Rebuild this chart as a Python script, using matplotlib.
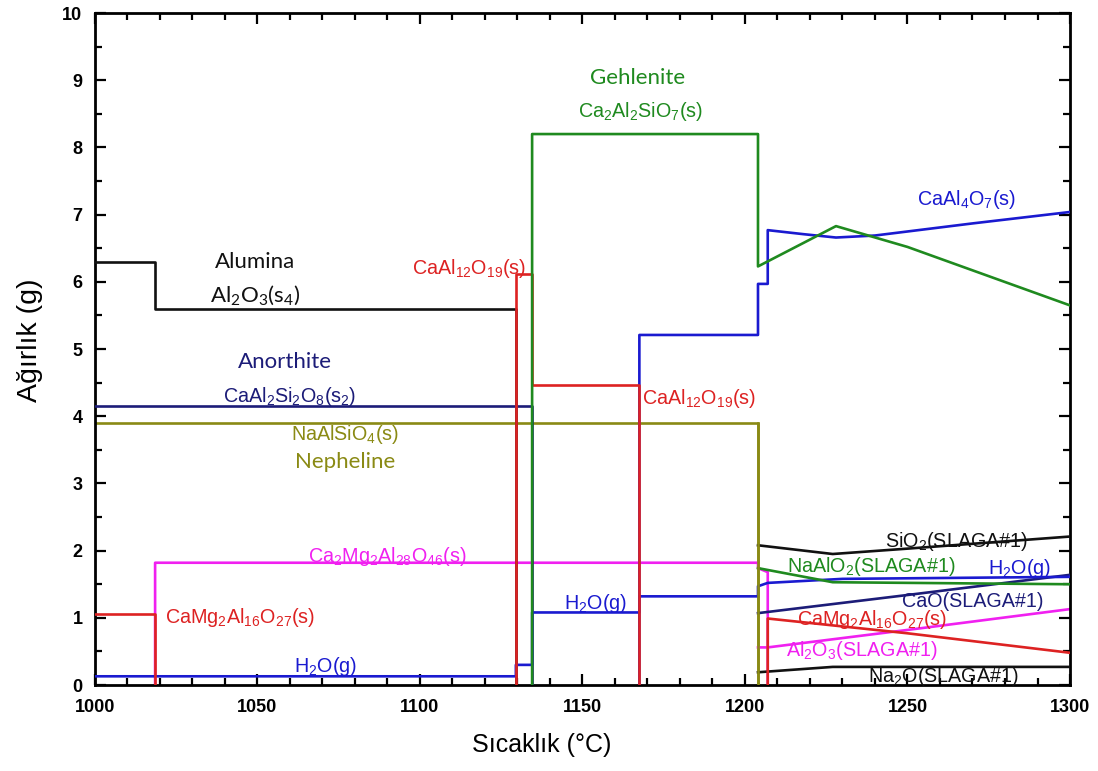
import matplotlib
matplotlib.use("Agg")
import matplotlib.pyplot as plt
from matplotlib.ticker import MultipleLocator

plt.rcParams['font.family'] = ['Liberation Sans', 'DejaVu Sans']
plt.rcParams['mathtext.default'] = 'regular'

# colours
BLACK = '#111111'
NAVY = '#1c1c78'
BLUE = '#1a1ad0'
RED = '#dd2222'
GREEN = '#1f8a1f'
OLIVE = '#8a8a14'
MAGENTA = '#f020f0'

# --- data (temperature in C, weight in g) ---
alumina_t = [1000, 1018.5, 1018.5, 1129.5, 1129.5]
alumina_w = [6.3, 6.3, 5.6, 5.6, 0]

anorthite_t = [1000, 1134.5, 1134.5]
anorthite_w = [4.16, 4.16, 0]

nepheline_t = [1000, 1204, 1204]
nepheline_w = [3.9, 3.9, 0]

spinel_t = [1000, 1018.5, 1018.5]
spinel_w = [1.05, 1.05, 0]

ca2mg2_t = [1018.5, 1018.5, 1204, 1204, 1207, 1207]
ca2mg2_w = [0, 1.82, 1.82, 1.74, 1.68, 0]

hibonite_t = [1129.5, 1129.5, 1134.5, 1134.5, 1167.5, 1167.5]
hibonite_w = [0, 6.12, 6.12, 4.47, 4.47, 0]

gehlenite_t = [1134.5, 1134.5, 1204, 1204, 1228, 1250, 1300]
gehlenite_w = [0, 8.2, 8.2, 6.23, 6.83, 6.52, 5.65]

caal4o7_t = [1167.5, 1167.5, 1204, 1204, 1207, 1207, 1218, 1228, 1240, 1250, 1270, 1300]
caal4o7_w = [0, 5.21, 5.21, 5.97, 5.97, 6.77, 6.71, 6.66, 6.69, 6.75, 6.87, 7.04]

h2o_t = [1000, 1129.5, 1129.5, 1134.5, 1134.5, 1167.5, 1167.5, 1204, 1204, 1207, 1230, 1300]
h2o_w = [0.13, 0.13, 0.3, 0.3, 1.08, 1.08, 1.32, 1.32, 1.47, 1.52, 1.58, 1.61]

sio2_t = [1204, 1227, 1250, 1300]
sio2_w = [2.08, 1.95, 2.03, 2.21]

naalo2_t = [1204, 1227, 1300]
naalo2_w = [1.74, 1.53, 1.50]

cao_t = [1204, 1250, 1300]
cao_w = [1.07, 1.34, 1.64]

spinel_slag_t = [1207, 1207, 1250, 1300]
spinel_slag_w = [0, 0.99, 0.77, 0.48]

al2o3_slag_t = [1204, 1207, 1250, 1300]
al2o3_slag_w = [0.56, 0.56, 0.82, 1.13]

na2o_t = [1204, 1227, 1300]
na2o_w = [0.19, 0.27, 0.27]

fig = plt.figure(figsize=(10.98, 7.71), dpi=100)
ax = fig.add_axes([0.0865, 0.1115, 0.888, 0.8715])

lw = 1.9
ax.plot(nepheline_t, nepheline_w, color=OLIVE, lw=lw, zorder=2)
ax.plot(ca2mg2_t, ca2mg2_w, color=MAGENTA, lw=lw, zorder=2)
ax.plot(al2o3_slag_t, al2o3_slag_w, color=MAGENTA, lw=lw, zorder=2)
ax.plot(alumina_t, alumina_w, color=BLACK, lw=lw, zorder=3)
ax.plot(sio2_t, sio2_w, color=BLACK, lw=lw, zorder=3)
ax.plot(na2o_t, na2o_w, color=BLACK, lw=lw, zorder=3)
ax.plot(anorthite_t, anorthite_w, color=NAVY, lw=lw, zorder=3)
ax.plot(cao_t, cao_w, color=NAVY, lw=lw, zorder=3)
ax.plot(h2o_t, h2o_w, color=BLUE, lw=lw, zorder=3)
ax.plot(caal4o7_t, caal4o7_w, color=BLUE, lw=lw, zorder=3)
ax.plot(naalo2_t, naalo2_w, color=GREEN, lw=lw, zorder=3)
ax.plot(spinel_t, spinel_w, color=RED, lw=lw, zorder=4)
ax.plot(spinel_slag_t, spinel_slag_w, color=RED, lw=lw, zorder=4)
ax.plot(hibonite_t, hibonite_w, color=RED, lw=lw, zorder=4)
ax.plot(gehlenite_t, gehlenite_w, color=GREEN, lw=lw, zorder=5)
ax.plot([1204, 1204], [0, 3.9], color=OLIVE, lw=lw, zorder=5)

# labels
fs = 14.2
name_font = ['Lato', 'DejaVu Sans']
labels = [
    (1049.2, 6.29, 'Alumina', BLACK, name_font),
    (1049.2, 5.80, r'Al$_2$O$_3$(s$_4$)', BLACK, name_font),
    (1115.0, 6.20, r'CaAl$_{12}$O$_{19}$(s)', RED, None),
    (1167.0, 9.03, 'Gehlenite', GREEN, name_font),
    (1167.7, 8.53, r'Ca$_2$Al$_2$SiO$_7$(s)', GREEN, None),
    (1268.0, 7.22, r'CaAl$_4$O$_7$(s)', BLUE, None),
    (1058.5, 4.81, 'Anorthite', NAVY, name_font),
    (1060.0, 4.30, r'CaAl$_2$Si$_2$O$_8$(s$_2$)', NAVY, None),
    (1077.0, 3.73, r'NaAlSiO$_4$(s)', OLIVE, None),
    (1077.0, 3.32, 'Nepheline', OLIVE, name_font),
    (1186.0, 4.27, r'CaAl$_{12}$O$_{19}$(s)', RED, None),
    (1090.0, 1.92, r'Ca$_2$Mg$_2$Al$_{28}$O$_{46}$(s)', MAGENTA, None),
    (1044.6, 1.01, r'CaMg$_2$Al$_{16}$O$_{27}$(s)', RED, None),
    (1071.0, 0.27, r'H$_2$O(g)', BLUE, None),
    (1154.0, 1.22, r'H$_2$O(g)', BLUE, None),
    (1265.0, 2.14, r'SiO$_2$(SLAGA#1)', BLACK, None),
    (1238.8, 1.76, r'NaAlO$_2$(SLAGA#1)', GREEN, None),
    (1284.6, 1.74, r'H$_2$O(g)', BLUE, None),
    (1270.0, 1.25, 'CaO(SLAGA#1)', NAVY, None),
    (1239.0, 0.97, r'CaMg$_2$Al$_{16}$O$_{27}$(s)', RED, None),
    (1236.0, 0.51, r'Al$_2$O$_3$(SLAGA#1)', MAGENTA, None),
    (1261.0, 0.13, r'Na$_2$O(SLAGA#1)', BLACK, None),
]
for x, y, s, c, fam in labels:
    kw = {}
    if fam:
        kw['family'] = fam
        size = 16
    else:
        size = fs
    ax.text(x, y, s, color=c, fontsize=size, ha='center', va='center', zorder=6, **kw)

ax.set_xlim(1000, 1300)
ax.set_ylim(0, 10)
ax.xaxis.set_major_locator(MultipleLocator(50))
ax.xaxis.set_minor_locator(MultipleLocator(10))
ax.yaxis.set_major_locator(MultipleLocator(1))
ax.yaxis.set_minor_locator(MultipleLocator(0.5))
ax.tick_params(which='both', direction='in', top=True, right=True, width=1.6)
ax.tick_params(which='major', length=8, labelsize=13)
ax.tick_params(axis='x', which='major', pad=10)
ax.tick_params(axis='y', which='major', pad=9)
ax.tick_params(which='minor', length=5)
for lab in ax.get_xticklabels() + ax.get_yticklabels():
    lab.set_fontweight('bold')
for sp in ax.spines.values():
    sp.set_linewidth(2)

ax.set_xlabel('Sıcaklık (°C)', fontsize=18)
ax.set_ylabel('Ağırlık (g)', fontsize=20.5)
ax.xaxis.set_label_coords(0.458, -0.071)
ax.yaxis.set_label_coords(-0.053, 0.513)

fig.savefig('out.png', dpi=100)
